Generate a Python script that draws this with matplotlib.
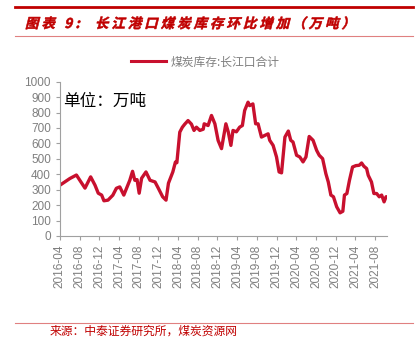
import numpy as np
import pandas as pd
import matplotlib
matplotlib.use("Agg")
import matplotlib.pyplot as plt
import matplotlib.dates as mdates
from matplotlib.lines import Line2D
from matplotlib.textpath import TextPath
from matplotlib.patches import PathPatch
from matplotlib.font_manager import FontProperties
from matplotlib.transforms import Affine2D, IdentityTransform

plt.rcParams['font.family'] = ['Liberation Sans', 'Noto Sans CJK SC', 'DejaVu Sans']

# 煤炭库存:长江口合计 (万吨)
dates = ["2016-04-01", "2016-05-01", "2016-06-01", "2016-07-12", "2016-08-02",
         "2016-09-03", "2016-10-08", "2016-11-04", "2016-11-24", "2016-12-15",
         "2016-12-29", "2017-01-23", "2017-02-22", "2017-03-16", "2017-04-06",
         "2017-05-01", "2017-06-07", "2017-06-24", "2017-07-08", "2017-07-22",
         "2017-08-04", "2017-08-19", "2017-09-15", "2017-10-10", "2017-11-10",
         "2017-11-30", "2017-12-27", "2018-01-17", "2018-02-01", "2018-02-28",
         "2018-03-16", "2018-03-25", "2018-04-12", "2018-04-28", "2018-05-13",
         "2018-06-02", "2018-06-23", "2018-07-09", "2018-07-24", "2018-08-14",
         "2018-09-04", "2018-09-10", "2018-10-04", "2018-10-25", "2018-11-15",
         "2018-12-05", "2018-12-26", "2019-01-22", "2019-02-06", "2019-02-22",
         "2019-03-07", "2019-03-28", "2019-04-17", "2019-05-04", "2019-05-18",
         "2019-06-08", "2019-06-18", "2019-07-08", "2019-07-25", "2019-08-09",
         "2019-08-30", "2019-09-20", "2019-10-10", "2019-10-20", "2019-11-10",
         "2019-12-01", "2019-12-17", "2020-01-01", "2020-01-22", "2020-02-12",
         "2020-02-27", "2020-03-12", "2020-04-03", "2020-04-23", "2020-05-13",
         "2020-05-31", "2020-06-20", "2020-07-14", "2020-08-05", "2020-08-21",
         "2020-09-11", "2020-10-01", "2020-10-16", "2020-11-01", "2020-11-17",
         "2020-12-07", "2020-12-28", "2021-01-14", "2021-01-24", "2021-02-08",
         "2021-02-24", "2021-03-15", "2021-04-05", "2021-04-25", "2021-05-10",
         "2021-05-24", "2021-06-10", "2021-06-20", "2021-07-10", "2021-07-25",
         "2021-08-11", "2021-08-27", "2021-09-11", "2021-09-26", "2021-10-08",
         "2021-10-18"]
stock = [329, 350, 372, 395, 361,
         310, 383, 329, 277, 265,
         228, 232, 264, 309, 318,
         265, 361, 419, 361, 365,
         277, 374, 415, 361, 350,
         310, 254, 232, 342, 415,
         479, 475, 673, 705, 725,
         748, 725, 684, 705, 684,
         692, 727, 716, 781, 727,
         619, 566, 727, 673, 587,
         684, 675, 705, 716, 813,
         867, 845, 856, 727, 727,
         641, 652, 662, 620, 587,
         512, 415, 409, 641, 680,
         620, 609, 523, 512, 480,
         512, 645, 620, 555, 523,
         501, 404, 350, 265, 254,
         189, 150, 160, 265, 275,
         361, 447, 456, 458, 473,
         452, 437, 393, 350, 275,
         275, 254, 265, 221, 254,
         254]

series_name = "煤炭库存:长江口合计"
unit_text = "单位：万吨"
title = "图表 9:  长江港口煤炭库存环比增加（万吨）"
source = "来源：中泰证券研究所，煤炭资源网"
tick_labels = pd.date_range("2016-04-01", "2021-08-01", freq="4MS")

red = "#c00000"
line_red = "#c8102e"
grey = "#7f7f7f"
cjk = ['Noto Sans CJK SC', 'DejaVu Sans']

fig = plt.figure(figsize=(4.19, 3.39), dpi=100)
H = fig.bbox.height
ax = fig.add_axes([0.143, 0.304, 0.781, 0.455])

x = pd.to_datetime(dates)
ax.plot(x, stock, color=line_red, lw=2.4, solid_joinstyle='round')

ax.set_ylim(0, 1000)
ax.set_yticks(np.arange(0, 1001, 100))
ax.set_xlim(pd.Timestamp("2016-04-01"), pd.Timestamp("2021-10-15"))
ax.set_xticks(tick_labels)
ax.xaxis.set_major_formatter(mdates.DateFormatter("%Y-%m"))
for lab in ax.get_xticklabels():
    lab.set_rotation(90)

for s in ['top', 'right']:
    ax.spines[s].set_visible(False)
for s in ['left', 'bottom']:
    ax.spines[s].set_color("#a0a0a0")
    ax.spines[s].set_linewidth(0.8)
ax.tick_params(colors="#a0a0a0", labelcolor=grey, labelsize=8.5, length=3, width=0.8)

ax.text(0.01, 0.87, unit_text, transform=ax.transAxes, fontsize=12,
        color="black", va='center', family=cjk)

leg = [Line2D([0], [0], color=line_red, lw=2.2)]
fig.legend(leg, [series_name], loc="center", bbox_to_anchor=(0.49, 0.817),
           frameon=False, handlelength=3.0, handletextpad=0.4,
           prop={'family': cjk, 'size': 8.5}, labelcolor=grey)

# slanted, letter-spaced title drawn as glyph paths (CJK font has no italic)
fp = FontProperties(family='Noto Sans CJK SC', weight='bold')
size = 13.5
paths, advs = [], []
for ch in title:
    if ch == ' ':
        paths.append(None)
        advs.append(0.25 * size)
        continue
    p = TextPath((0, 0), ch, size=size, prop=fp)
    paths.append(p)
    if ord(ch) > 0x2E80:
        advs.append(size)
    else:
        advs.append(p.get_extents().width + 1.5)
track = (330 - sum(advs)) / (len(title) - 1)
cx = 25.0
for p, a in zip(paths, advs):
    if p is not None:
        tr = Affine2D().skew_deg(14, 0).translate(cx, H - 28)
        fig.add_artist(PathPatch(p, transform=tr + IdentityTransform(),
                                 facecolor=red, edgecolor=red, lw=0.4))
    cx += a + track

# report-style frame: rules, source
fig.add_artist(Line2D([0.036, 0.986], [0.979, 0.979], color=red, lw=2.0))
fig.add_artist(Line2D([0.036, 0.986], [0.895, 0.895], color="#e08080", lw=0.8))
fig.add_artist(Line2D([0.036, 0.986], [0.047, 0.047], color="#e08080", lw=0.8))
fig.text(0.118, 0.022, source, fontsize=8.5, color=red, va='center', family=cjk)

fig.savefig("out.png", dpi=100)
